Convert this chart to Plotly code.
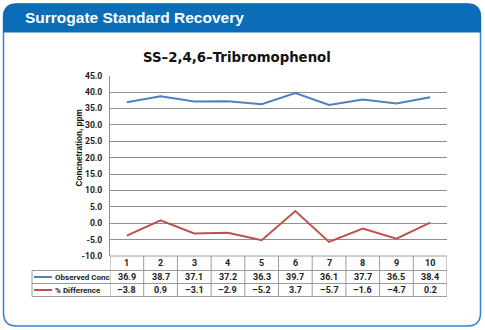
import plotly.graph_objects as go

W, H = 485, 330

categories = [1, 2, 3, 4, 5, 6, 7, 8, 9, 10]
observed_conc = [36.9, 38.7, 37.1, 37.2, 36.3, 39.7, 36.1, 37.7, 36.5, 38.4]
pct_difference = [-3.8, 0.9, -3.1, -2.9, -5.2, 3.7, -5.7, -1.6, -4.7, 0.2]
series_names = ["Observed Conc", "% Difference"]
series_colors = ["#4f81bd", "#c0504d"]
y_tick_values = [-10, -5, 0, 5, 10, 15, 20, 25, 30, 35, 40, 45]
y_tick_labels = ["-10.0", "-5.0", "0.0", "5.0", "10.0", "15.0", "20.0", "25.0",
                 "30.0", "35.0", "40.0", "45.0"]

FONT = "Liberation Sans"
SFONT = "Roboto"
TFONT = "DejaVu Sans"


def px(x):
    return x / W


def py(y):
    return 1 - y / H


def P(x, y):
    return f"{px(x):.5f},{py(y):.5f}"


fig = go.Figure()
for name, vals, col in zip(series_names, [observed_conc, pct_difference], series_colors):
    fig.add_trace(go.Scatter(x=categories, y=vals, mode="lines", name=name,
                             line=dict(color=col, width=2), showlegend=False))

# plot area in pixels
PL, PR, PT, PB = 110, 447, 75.7, 256

shapes = []
# panel
L, Rt, T, B, R = 3.5, 480.5, 4, 326, 13
outline = (f"M {P(L, T + R)} Q {P(L, T)} {P(L + R, T)} L {P(Rt - R, T)} Q {P(Rt, T)} {P(Rt, T + R)} "
           f"L {P(Rt, B - R)} Q {P(Rt, B)} {P(Rt - R, B)} L {P(L + R, B)} Q {P(L, B)} {P(L, B - R)} Z")
shapes.append(dict(type="path", path=outline, xref="paper", yref="paper",
                   fillcolor="white", line=dict(color="#3a80cc", width=1.5), layer="below"))
HB = 32
header = (f"M {P(L, HB)} L {P(L, T + R)} Q {P(L, T)} {P(L + R, T)} L {P(Rt - R, T)} "
          f"Q {P(Rt, T)} {P(Rt, T + R)} L {P(Rt, HB)} Z")
shapes.append(dict(type="path", path=header, xref="paper", yref="paper",
                   fillcolor="#0b6cb7", line=dict(color="#0b6cb7", width=1), layer="below"))

# table
TB = "#9a9a9a"
r0, r1, r2, r3 = 256, 270.5, 283.5, 296.5
LX = 32
for yy in (r0, r1):
    shapes.append(dict(type="line", xref="paper", yref="paper", x0=px(PL), x1=px(PR),
                       y0=py(yy), y1=py(yy), line=dict(color=TB, width=1)))
for yy in (r1, r2, r3):
    shapes.append(dict(type="line", xref="paper", yref="paper", x0=px(LX), x1=px(PR),
                       y0=py(yy), y1=py(yy), line=dict(color=TB, width=1)))
shapes.append(dict(type="line", xref="paper", yref="paper", x0=px(LX), x1=px(LX),
                   y0=py(r1), y1=py(r3), line=dict(color=TB, width=1)))
for k in range(len(categories) + 1):
    xb = categories[0] - 0.5 + k
    shapes.append(dict(type="line", xref="x", yref="paper", x0=xb, x1=xb,
                       y0=py(r0), y1=py(r3), line=dict(color=TB, width=1)))
# legend keys
for (ya, yb), col in zip([(r1, r2), (r2, r3)], series_colors):
    ym = (ya + yb) / 2
    shapes.append(dict(type="line", xref="paper", yref="paper", x0=px(34), x1=px(52),
                       y0=py(ym), y1=py(ym), line=dict(color=col, width=2)))

ann = []
ann.append(dict(text="<b>Surrogate Standard Recovery</b>", x=px(23), y=py(17), xref="paper", yref="paper",
                xanchor="left", yanchor="middle", showarrow=False,
                font=dict(family=FONT, size=15.5, color="white")))
ann.append(dict(text="<b>SS\u20132,4,6\u2013Tribromophenol</b>", x=px(237), y=py(57), xref="paper", yref="paper",
                xanchor="center", yanchor="middle", showarrow=False,
                font=dict(family=TFONT, size=13.3, color="#111")))
ann.append(dict(text="<b>Concnetration, ppm</b>", x=px(78.5), y=py(148), xref="paper", yref="paper",
                xanchor="center", yanchor="middle", showarrow=False, textangle=-90,
                font=dict(family=FONT, size=8.2, color="#111")))
tf = dict(family=SFONT, size=9, color="#222")
for c in categories:
    ann.append(dict(text=f"<b>{c}</b>", x=c, y=py((r0 + r1) / 2), xref="x", yref="paper",
                    yanchor="middle", showarrow=False, font=tf))
for (ya, yb), vals, name in zip([(r1, r2), (r2, r3)], [observed_conc, pct_difference], series_names):
    ym = py((ya + yb) / 2)
    ann.append(dict(text=f"<b>{name}</b>", x=px(52.5), y=ym, xref="paper", yref="paper",
                    xanchor="left", yanchor="middle", showarrow=False,
                    font=dict(family=SFONT, size=8, color="#222")))
    for c, v in zip(categories, vals):
        s = f"{v:.1f}".replace("-", "\u2013")
        ann.append(dict(text=f"<b>{s}</b>", x=c, y=ym, xref="x", yref="paper",
                        yanchor="middle", showarrow=False, font=tf))

fig.update_layout(
    template="none",
    width=W, height=H, autosize=False,
    margin=dict(l=0, r=0, t=0, b=0, pad=0, autoexpand=False),
    paper_bgcolor="white", plot_bgcolor="rgba(0,0,0,0)",
    shapes=shapes, annotations=ann, showlegend=False,
    xaxis=dict(domain=[px(PL), px(PR)], range=[0.5, 10.5], showticklabels=False,
               showgrid=False, zeroline=False, showline=False, fixedrange=True, automargin=False),
    yaxis=dict(domain=[py(PB), py(PT)], range=[-10, 45],
               tickmode="array", tickvals=y_tick_values, ticktext=y_tick_labels,
               showgrid=True, gridcolor="#8f8f8f", gridwidth=1,
               zeroline=False, showline=True, linecolor="#8f8f8f", linewidth=1,
               ticks="", ticklabelstandoff=5, automargin=False,
               tickfont=dict(family=SFONT, size=8.6, color="#222", weight="bold"),
               fixedrange=True),
)

fig.write_html("out.html", config={"displayModeBar": False})
